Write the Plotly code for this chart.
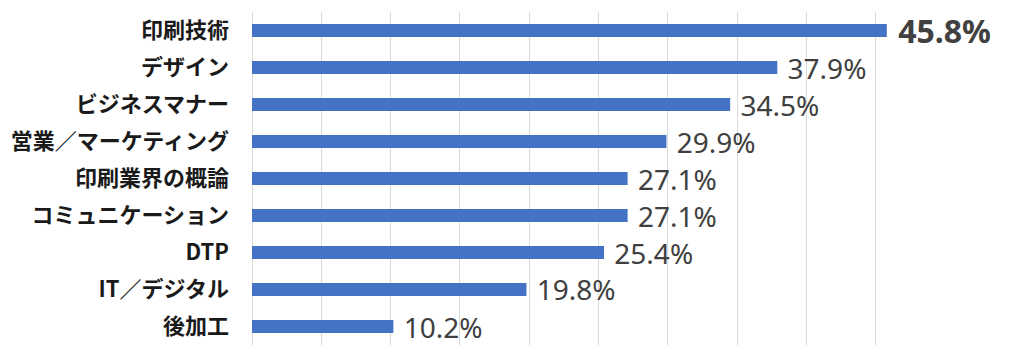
import plotly.graph_objects as go

categories = ["印刷技術", "デザイン", "ビジネスマナー", "営業／マーケティング", "印刷業界の概論",
              "コミュニケーション", "DTP", "IT／デジタル", "後加工"]
values = [45.8, 37.9, 34.5, 29.9, 27.1, 27.1, 25.4, 19.8, 10.2]

templates = [" <b>%{x:.1f}%</b>"] + [" %{x:.1f}%"] * (len(values) - 1)
sizes = [32] + [28] * (len(values) - 1)

fig = go.Figure(go.Bar(
    x=values, y=categories, orientation="h",
    marker=dict(color="#4472C4", line=dict(width=0)),
    texttemplate=templates, textposition="outside",
    textfont=dict(family="Noto Sans, DejaVu Sans, sans-serif", size=sizes, color="#404040"),
    constraintext="none", cliponaxis=False, hoverinfo="skip",
))

fig.update_layout(
    width=1024, height=357,
    margin=dict(l=244, r=87, t=4, b=20, autoexpand=False),
    paper_bgcolor="white", plot_bgcolor="white",
    bargap=0.65, showlegend=False,
    xaxis=dict(range=[0, 50], dtick=5, showgrid=True, gridcolor="#d9d9d9", gridwidth=1,
               showticklabels=False, zeroline=True, zerolinecolor="#d9d9d9", zerolinewidth=1,
               showline=False, fixedrange=True, automargin=False),
    yaxis=dict(autorange="reversed", showgrid=False, showline=False, zeroline=False,
               ticklabelstandoff=22, automargin=False,
               tickfont=dict(family="Noto Sans CJK JP, Noto Sans, sans-serif", size=22, color="#1a1a1a",
                             weight="bold"),
               fixedrange=True),
)

fig.write_html("out.html")
